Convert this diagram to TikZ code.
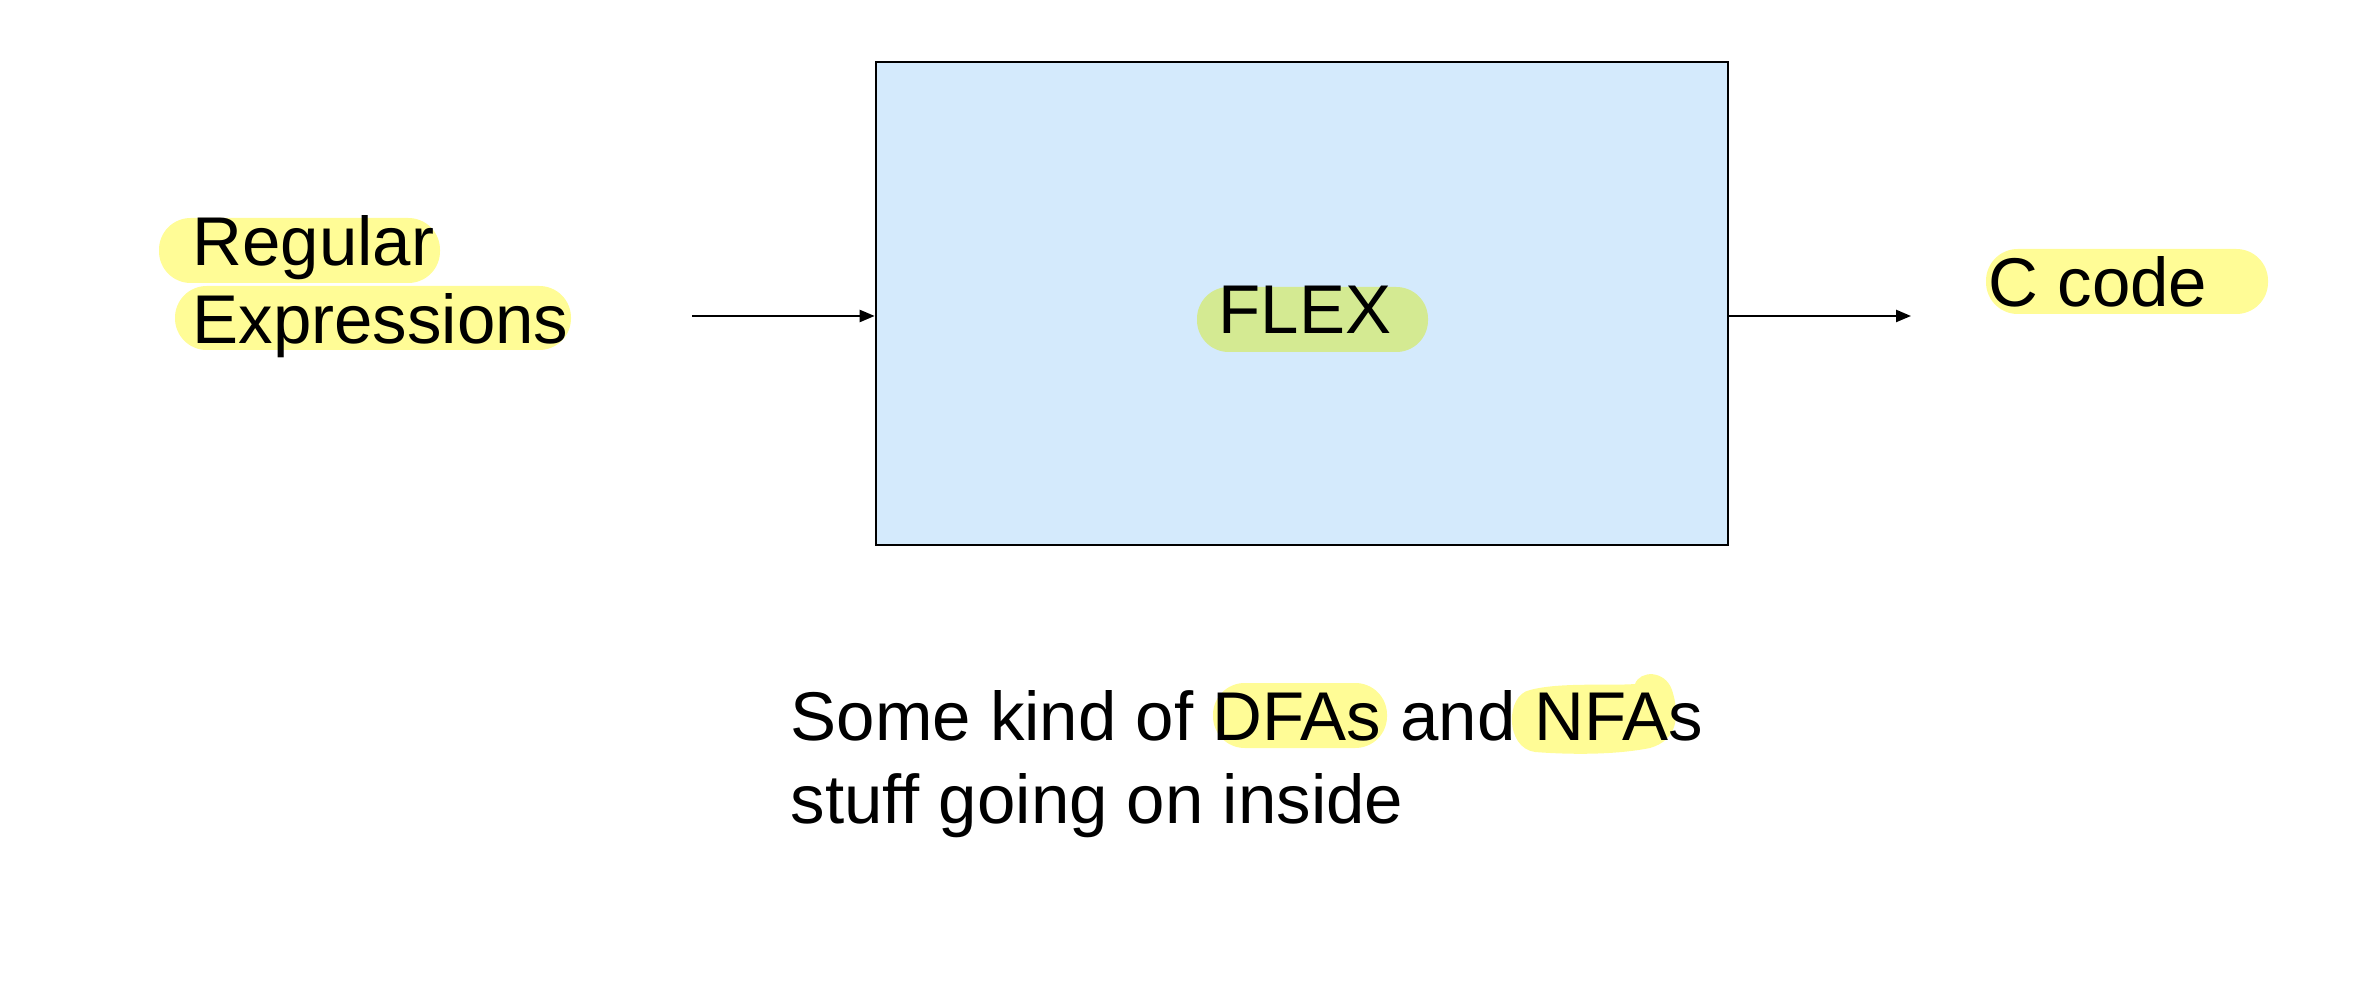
\documentclass[tikz,border=0pt]{standalone}
\usepackage{fontspec}
\setmainfont{Liberation Sans}
\usetikzlibrary{arrows.meta}
\definecolor{hlyellow}{RGB}{255,252,150}
\definecolor{boxblue}{RGB}{212,234,252}
\definecolor{hlgreen}{RGB}{212,234,146}
\tikzset{
  txt/.style={anchor=base west, inner sep=0pt, font=\fontsize{20.7}{24.6}\selectfont},
  hl/.style={fill=hlyellow},
  arr/.style={line width=0.7pt, -{Triangle[length=4.5pt,width=3.6pt]}},
}
\begin{document}
\begin{tikzpicture}[x=0.3pt,y=-0.3pt]
\useasboundingbox (0,0) rectangle (2369,999);
% box
\node[draw=black, line width=0.8pt, fill=boxblue, minimum width=255.6pt, minimum height=144.9pt, inner sep=0pt] (flex) at (1302,303.5) {};
% highlights
\fill[hl, rounded corners=9.5pt] (159,218) rectangle (440,283);
\fill[hl, rounded corners=9.5pt] (175,286) rectangle (571,350);
\fill[hlgreen, rounded corners=9.5pt] (1197,287) rectangle (1428,352);
\fill[hl, rounded corners=9.5pt] (1986,249) rectangle (2268,314);
\fill[hl, rounded corners=9.5pt] (1213,683) rectangle (1387,748);
\fill[hl] (1530,690) .. controls (1560,682) and (1610,686) .. (1635,684)
  .. controls (1640,670) and (1665,670) .. (1672,690)
  .. controls (1680,715) and (1678,740) .. (1650,748)
  .. controls (1610,756) and (1560,754) .. (1535,752)
  .. controls (1505,748) and (1505,695) .. (1530,690) -- cycle;
% texts
\node[txt] (reg) at (192,266) {Regular};
\node[txt] (expr) at (192,344) {Expressions};
\node[txt] (flext) at (1218,334) {FLEX};
\node[txt] (ccode) at (1988,307) {C code};
\node[txt] (l1) at (790,740) {Some kind of DFAs and NFAs};
\node[txt] (l2) at (790,823) {stuff going on inside};
% arrows
\coordinate (rein) at (692,316);
\coordinate (cout) at (1911,316);
\draw[arr] (rein) -- (rein -| flex.west);
\draw[arr] (cout -| flex.east) -- (cout);
\end{tikzpicture}
\end{document}
